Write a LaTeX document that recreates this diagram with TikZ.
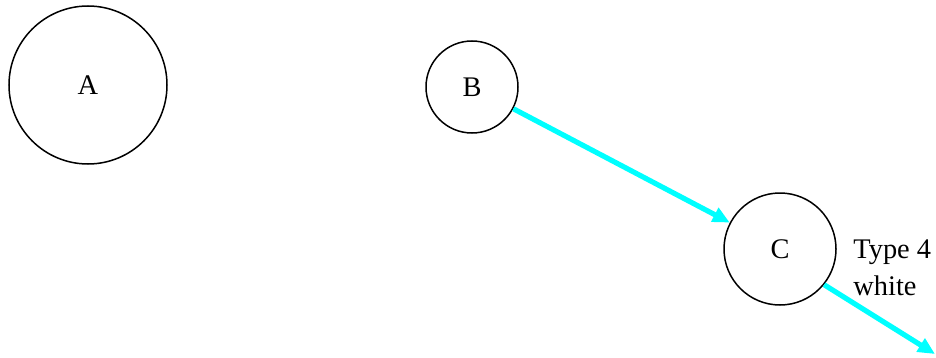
\documentclass[tikz,border=0pt]{standalone}
\usepackage{fontspec}
\setmainfont{Liberation Serif}
\usetikzlibrary{arrows.meta}
\begin{document}
\begin{tikzpicture}[x=0.5pt,y=-0.5pt,
  circ/.style={circle,draw=black,line width=0.75pt,inner sep=0pt,font=\fontsize{14.2}{17}\selectfont},
  conn/.style={draw={rgb,255:red,0;green,255;blue,255},line width=2.6pt,-{Triangle[length=8.5pt,width=7.5pt]}},
  lbl/.style={align=left,inner sep=0pt,font=\fontsize{14.2}{18.5}\selectfont}]
\useasboundingbox (0,0) rectangle (936,358);
\node[circ,minimum size=79pt] (A) at (88,85) {A};
\node[circ,minimum size=46pt] (B) at (472,87) {B};
\node[circ,minimum size=56pt] (C) at (780,249) {C};
\coordinate (E) at (935,354);
\draw[conn] (B) -- (C);
\draw[conn] (C.-39) -- (E);
\node[lbl,anchor=base west] (T) at (853,295) {Type 4\\white};
\end{tikzpicture}
\end{document}
